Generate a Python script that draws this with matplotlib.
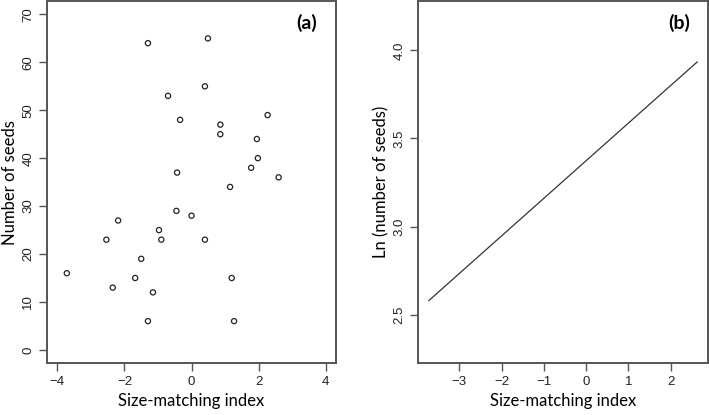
import matplotlib
matplotlib.use("Agg")
import matplotlib.pyplot as plt
import numpy as np

# panel (a): size-matching index vs number of seeds
size_index = [-1.30, 0.49, -0.70, 0.40, -0.34, 0.86, 0.86, 2.27, 1.95, 1.98,
              1.78, 2.60, -0.43, 1.15, -0.45, 0.00, -2.19, -2.54, -0.97, -0.90,
              0.40, -1.50, -3.72, -1.68, 1.20, -2.35, -1.15, -1.30, 1.27]
n_seeds = [64, 65, 53, 55, 48, 47, 45, 49, 44, 40,
           38, 36, 37, 34, 29, 28, 27, 23, 25, 23,
           23, 19, 16, 15, 15, 13, 12, 6, 6]

# panel (b): fitted line, ln(number of seeds)
fit_x = [-3.72, 2.63]
fit_y = [2.58, 3.934]

a_xticks = [-4, -2, 0, 2, 4]
a_yticks = [0, 10, 20, 30, 40, 50, 60, 70]
b_xticks = [-3, -2, -1, 0, 1, 2]
b_yticks = [2.5, 3.0, 3.5, 4.0]

W, H = 709, 415
fig = plt.figure(figsize=(W / 100, H / 100), dpi=100)

frame_col = "#555555"
tick_font = "Liberation Sans"
label_font = "Lato"


def box(l, r, t, b):
    return [l / W, 1 - b / H, (r - l) / W, (b - t) / H]


def style(ax):
    for s in ax.spines.values():
        s.set_color(frame_col)
        s.set_linewidth(1.4)
    ax.tick_params(direction="out", length=6, width=1.0, color=frame_col,
                   labelsize=9.5, labelcolor="#222222", pad=3)
    for lab in ax.get_xticklabels() + ax.get_yticklabels():
        lab.set_family(tick_font)
    for lab in ax.get_yticklabels():
        lab.set_rotation(90)
        lab.set_va("center")


ax1 = fig.add_axes(box(46.7, 336.3, 1, 363.3))
ax1.scatter(size_index, n_seeds, s=14, facecolors="none", edgecolors="#222222",
            linewidths=0.9)
ax1.set_xlim(-4.32, 4.32)
ax1.set_ylim(-2.8, 72.8)
ax1.set_xticks(a_xticks, [str(v).replace("-", "\u2212") for v in a_xticks])
ax1.set_yticks(a_yticks, [str(v) for v in a_yticks])
style(ax1)
ax1.set_xlabel("Size-matching index", fontsize=12, family=label_font, labelpad=4)
ax1.set_ylabel("Number of seeds", fontsize=12, family=label_font, labelpad=3)
ax1.text(0.935, 0.965, "(a)", transform=ax1.transAxes, ha="right", va="top",
         fontsize=14, fontweight="bold", family=label_font)

ax2 = fig.add_axes(box(418.3, 707.7, 1, 363.3))
ax2.plot(fit_x, fit_y, color="#333333", lw=0.9)
ax2.set_xlim(-3.97, 2.88)
ax2.set_ylim(2.224, 4.28)
ax2.set_xticks(b_xticks, [str(v).replace("-", "\u2212") for v in b_xticks])
ax2.set_yticks(b_yticks, [f"{v:.1f}" for v in b_yticks])
style(ax2)
ax2.set_xlabel("Size-matching index", fontsize=12, family=label_font, labelpad=4)
ax2.set_ylabel("Ln (number of seeds)", fontsize=12, family=label_font, labelpad=3)
ax2.text(0.94, 0.965, "(b)", transform=ax2.transAxes, ha="right", va="top",
         fontsize=14, fontweight="bold", family=label_font)

fig.savefig("out.png", dpi=100)
